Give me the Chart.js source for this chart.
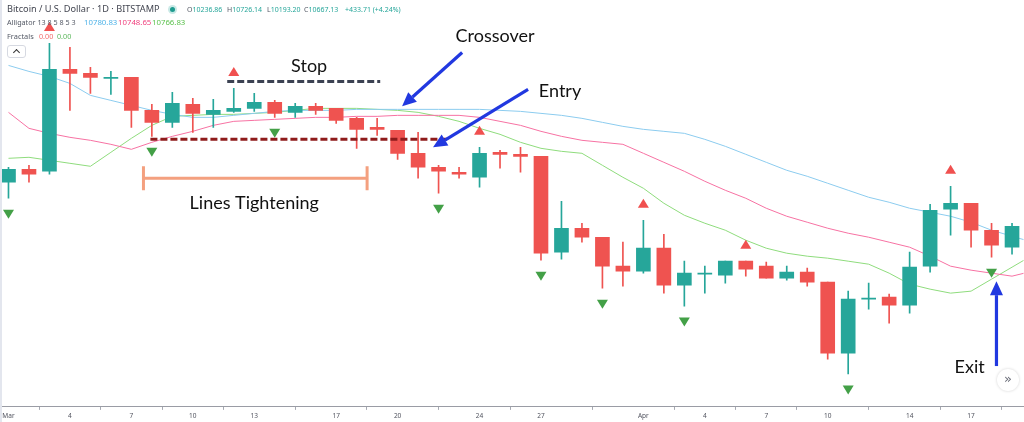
<!DOCTYPE html>
<html>
<head>
<meta charset="utf-8">
<script src="https://cdn.jsdelivr.net/npm/chart.js@4.4.1/dist/chart.umd.min.js"></script>
<style>
html,body{margin:0;padding:0;background:#fff;}
#wrap{position:relative;width:1024px;height:422px;overflow:hidden;background:#fff;}
#c{position:absolute;left:0;top:0;}
#edge{position:absolute;left:0;top:0;width:2px;height:422px;background:#e3e6ee;}
.h{position:absolute;white-space:nowrap;font-family:"Noto Sans",sans-serif;line-height:1;}
.t1{font-size:9.2px;color:#434651;top:4px;}
.n1{font-size:7px;color:#555a66;top:6px;}
.t2{font-size:7.2px;color:#555a66;}
.teal{color:#26a69a;}
.dot{position:absolute;left:168px;top:5px;width:9px;height:9px;border-radius:50%;background:rgba(38,166,154,0.25);}
.dot:after{content:"";position:absolute;left:2px;top:2px;width:5px;height:5px;border-radius:50%;background:#1e9b8f;}
#upbtn{position:absolute;left:7px;top:45px;width:17px;height:11px;border:1px solid #d6d9e1;border-radius:3px;background:#fff;}
#upbtn span{position:absolute;left:6px;top:4px;width:4px;height:4px;border-left:1px solid #333;border-top:1px solid #333;transform:rotate(45deg);}
#fwd{position:absolute;left:997px;top:369px;width:22px;height:22px;border-radius:50%;background:#fff;box-shadow:0 0 3px rgba(0,0,0,0.18);text-align:center;font-family:"DejaVu Sans",sans-serif;font-size:13px;line-height:20px;color:#6a6d78;}
</style>
</head>
<body>
<div id="wrap">
<canvas id="c" width="1024" height="422"></canvas>
<div id="edge"></div>
<div class="h t1" style="left:7px;">Bitcoin / U.S. Dollar · 1D · BITSTAMP</div>
<div class="dot"></div>
<div class="h n1" style="left:187px;">O<span class="teal">10236.86</span></div>
<div class="h n1" style="left:227px;">H<span class="teal">10726.14</span></div>
<div class="h n1" style="left:267px;">L<span class="teal">10193.20</span></div>
<div class="h n1" style="left:304px;">C<span class="teal">10667.13</span></div>
<div class="h n1 teal" style="left:345px;">+433.71 (+4.24%)</div>
<div class="h t2" style="left:7px;top:19px;">Alligator 13 8 5 8 5 3</div>
<div class="h t2" style="left:84px;top:19px;font-size:7.8px;color:#4fb3e8;">10780.83</div>
<div class="h t2" style="left:118px;top:19px;font-size:7.8px;color:#f0427f;">10748.65</div>
<div class="h t2" style="left:152px;top:19px;font-size:7.8px;color:#5cc24e;">10766.83</div>
<div class="h t2" style="left:7px;top:33px;font-size:7.4px;">Fractals</div>
<div class="h t2" style="left:39px;top:33px;color:#f26b6b;">0.00</div>
<div class="h t2" style="left:57px;top:33px;color:#5cb85c;">0.00</div>
<div id="upbtn"><span></span></div>
<div id="fwd">»</div>
</div>
<script>
// ---- data (day index 0 = Mar 1) ----
const openP  = [10090,10155,10145,10655,10635,10610,10615,10450,10390,10480,10430,10445,10460,10490,10440,10470,10460,10410,10365,10350,10235,10165,10140,10115,10240,10230,10220,9740,9860,9815,9670,9645,9760,9575,9630,9625,9695,9670,9610,9640,9590,9235,9505,9515,9475,9670,9955,9985,9850,9765];
const highP  = [10165,10175,10785,10765,10665,10645,10615,10480,10540,10510,10505,10560,10535,10500,10485,10485,10460,10415,10410,10350,10340,10175,10165,10265,10250,10265,10220,9995,9885,9815,9790,9900,9830,9695,9670,9695,9695,9690,9670,9660,9590,9545,9585,9530,9740,9980,10070,9985,9885,9885];
const lowP   = [10010,10090,10130,10450,10535,10530,10365,10320,10365,10340,10365,10440,10445,10415,10415,10430,10385,10260,10325,10205,10110,10035,10110,10065,10160,10140,9700,9705,9790,9560,9570,9635,9535,9470,9535,9585,9620,9610,9600,9570,9205,9130,9455,9385,9435,9640,9825,9765,9715,9730];
const closeP = [10155,10130,10655,10635,10615,10615,10450,10390,10485,10435,10450,10460,10490,10435,10470,10450,10400,10355,10355,10235,10165,10145,10130,10235,10230,10220,9735,9860,9815,9670,9645,9760,9575,9635,9635,9695,9655,9610,9640,9590,9235,9505,9510,9475,9665,9950,9985,9850,9775,9870];
const jaw   = [10675,10645,10620,10585,10525,10500,10475,10450,10430,10415,10415,10425,10435,10445,10450,10450,10450,10455,10455,10455,10455,10455,10455,10455,10450,10445,10435,10425,10410,10390,10370,10355,10345,10335,10305,10270,10230,10190,10150,10120,10085,10050,10015,9990,9960,9940,9920,9890,9850,9820,9790];
const teeth = [10440,10360,10335,10315,10300,10280,10255,10290,10320,10345,10375,10395,10400,10405,10410,10415,10415,10420,10420,10425,10425,10425,10425,10415,10395,10375,10345,10320,10300,10290,10280,10235,10190,10145,10095,10050,10010,9960,9920,9890,9860,9835,9815,9790,9765,9720,9670,9650,9635,9620,9645];
const lips  = [10210,10215,10200,10185,10170,10240,10310,10375,10420,10425,10430,10430,10435,10440,10450,10460,10460,10460,10455,10450,10440,10420,10395,10360,10330,10290,10260,10245,10235,10175,10115,10060,9985,9925,9885,9850,9800,9760,9735,9720,9710,9695,9680,9635,9580,9555,9535,9545,9605,9665,9725];
const fractalUp   = [2,11,23,31,36,46];
const fractalDown = [0,7,13,21,26,29,33,41,48];
const tickDays   = [0,3,6,9,12,16,19,23,26,31,34,37,40,44,47];
const tickLabels = ['Mar','4','7','10','13','17','20','24','27','Apr','4','7','10','14','17'];

// annotations in data coordinates (day, price)
const stopLine  = {x1:10.68, x2:18.15, p:10595};
const entryLine = {x1:6.93, x2:21.41, p:10305};
const bracket   = {x1:6.59, x2:17.51, p:10110, pTop:10170, pBot:10050};
const arrows = [
  {x1:22.15, p1:10740, x2:19.22, p2:10470},
  {x1:25.37, p1:10555, x2:20.73, p2:10265},
  {x1:48.24, p1:9170,  x2:48.24, p2:9595}
];
const labels = [
  {text:'Stop', x:14.68, p:10670},
  {text:'Crossover', x:23.76, p:10820},
  {text:'Entry', x:26.93, p:10545},
  {text:'Lines Tightening', x:12.0, p:9985},
  {text:'Exit', x:46.93, p:9165}
];

const PRICE_TOP = 11000, PRICE_PER_PX = 5;
const GREEN = '#26a69a', RED = '#ef5350';
const candleColors = openP.map((o,i) => closeP[i] >= o ? GREEN : RED);
const bodies = openP.map((o,i) => ({x:i, y:[o, closeP[i]]}));
const wicks  = openP.map((o,i) => ({x:i, y:[lowP[i], highP[i]]}));
const asLine = arr => arr.map((v,i) => ({x:i, y:v}));

function tri(ctx, x, y, dir, color){
  const w = 5.5, h = 9;
  ctx.fillStyle = color;
  ctx.beginPath();
  if (dir === 'up'){ ctx.moveTo(x, y - h/2); ctx.lineTo(x + w, y + h/2); ctx.lineTo(x - w, y + h/2); }
  else { ctx.moveTo(x, y + h/2); ctx.lineTo(x + w, y - h/2); ctx.lineTo(x - w, y - h/2); }
  ctx.closePath(); ctx.fill();
}
function arrow(ctx, x1, y1, x2, y2){
  const ang = Math.atan2(y2 - y1, x2 - x1), L = 14, W = 6.5;
  const bx = x2 - L*Math.cos(ang), by = y2 - L*Math.sin(ang);
  ctx.strokeStyle = '#2138e0'; ctx.fillStyle = '#2138e0'; ctx.lineWidth = 3.2; ctx.lineCap = 'butt';
  ctx.beginPath(); ctx.moveTo(x1, y1); ctx.lineTo(bx, by); ctx.stroke();
  ctx.beginPath();
  ctx.moveTo(x2, y2);
  ctx.lineTo(bx + W*Math.sin(ang), by - W*Math.cos(ang));
  ctx.lineTo(bx - W*Math.sin(ang), by + W*Math.cos(ang));
  ctx.closePath(); ctx.fill();
}

const overlay = {
  id: 'overlay',
  afterDatasetsDraw(chart){
    const {ctx, scales:{x, y}} = chart;
    ctx.save();
    fractalUp.forEach(d => tri(ctx, x.getPixelForValue(d), y.getPixelForValue(highP[d]) - 17, 'up', '#f0504f'));
    fractalDown.forEach(d => tri(ctx, x.getPixelForValue(d), y.getPixelForValue(lowP[d]) + 16, 'down', '#43a047'));
    ctx.lineWidth = 3; ctx.setLineDash([7,3]);
    ctx.strokeStyle = '#3b4252';
    ctx.beginPath(); ctx.moveTo(x.getPixelForValue(stopLine.x1), y.getPixelForValue(stopLine.p)); ctx.lineTo(x.getPixelForValue(stopLine.x2), y.getPixelForValue(stopLine.p)); ctx.stroke();
    ctx.strokeStyle = '#8e1b1b';
    ctx.beginPath(); ctx.moveTo(x.getPixelForValue(entryLine.x1), y.getPixelForValue(entryLine.p)); ctx.lineTo(x.getPixelForValue(entryLine.x2), y.getPixelForValue(entryLine.p)); ctx.stroke();
    ctx.setLineDash([]);
    ctx.strokeStyle = '#f4a07f'; ctx.lineWidth = 3;
    const bx1 = x.getPixelForValue(bracket.x1), bx2 = x.getPixelForValue(bracket.x2), by = y.getPixelForValue(bracket.p);
    const bt = y.getPixelForValue(bracket.pTop), bb = y.getPixelForValue(bracket.pBot);
    ctx.beginPath(); ctx.moveTo(bx1, by); ctx.lineTo(bx2, by);
    ctx.moveTo(bx1, bt); ctx.lineTo(bx1, bb); ctx.moveTo(bx2, bt); ctx.lineTo(bx2, bb); ctx.stroke();
    arrows.forEach(a => arrow(ctx, x.getPixelForValue(a.x1), y.getPixelForValue(a.p1), x.getPixelForValue(a.x2), y.getPixelForValue(a.p2)));
    ctx.fillStyle = '#111'; ctx.font = '18px Lato'; ctx.textAlign = 'center'; ctx.textBaseline = 'middle';
    labels.forEach(l => ctx.fillText(l.text, x.getPixelForValue(l.x), y.getPixelForValue(l.p)));
    ctx.restore();
  }
};

const chart = new Chart(document.getElementById('c'), {
  data: {
    datasets: [
      {type:'bar', data: bodies, backgroundColor: candleColors, barThickness: 14, minBarLength: 1, grouped: false, borderWidth: 0, borderSkipped: false, order: 1},
      {type:'bar', data: wicks, backgroundColor: candleColors, barThickness: 1, grouped: false, borderWidth: 0, borderSkipped: false, order: 2},
      {type:'line', data: asLine(jaw), borderColor: '#8cccef', borderWidth: 1, pointRadius: 0, tension: 0, order: 3},
      {type:'line', data: asLine(teeth), borderColor: '#f772a3', borderWidth: 1, pointRadius: 0, tension: 0, order: 3},
      {type:'line', data: asLine(lips), borderColor: '#8fdc7d', borderWidth: 1, pointRadius: 0, tension: 0, order: 3}
    ]
  },
  options: {
    responsive: false,
    animation: false,
    devicePixelRatio: 1,
    layout: {padding: 0},
    plugins: {legend: {display: false}, tooltip: {enabled: false}},
    scales: {
      x: {
        type: 'linear', min: -0.39, max: 49.56, offset: false,
        afterBuildTicks: s => { s.ticks = tickDays.map(v => ({value: v})); },
        afterFit: s => { s.paddingLeft = 0; s.paddingRight = 0; },
        ticks: {
          autoSkip: false, maxRotation: 0, padding: 2,
          font: {family: 'Noto Sans', size: 6.5, lineHeight: 1.25}, color: '#50535e',
          callback: (v) => { const k = tickDays.indexOf(v); return k >= 0 ? tickLabels[k] : ''; }
        },
        grid: {drawOnChartArea: false, drawTicks: true, tickLength: 3, color: '#a6a9b2'},
        border: {display: true, color: '#9a9ca5', width: 1}
      },
      y: {type: 'linear', display: false, min: 8965, max: PRICE_TOP}
    }
  },
  plugins: [overlay]
});
// keep a constant price-per-pixel mapping for the actual plot height
const ca = chart.chartArea;
chart.options.scales.y.min = PRICE_TOP - PRICE_PER_PX * (ca.bottom - ca.top);
chart.update();
</script>
</body>
</html>
